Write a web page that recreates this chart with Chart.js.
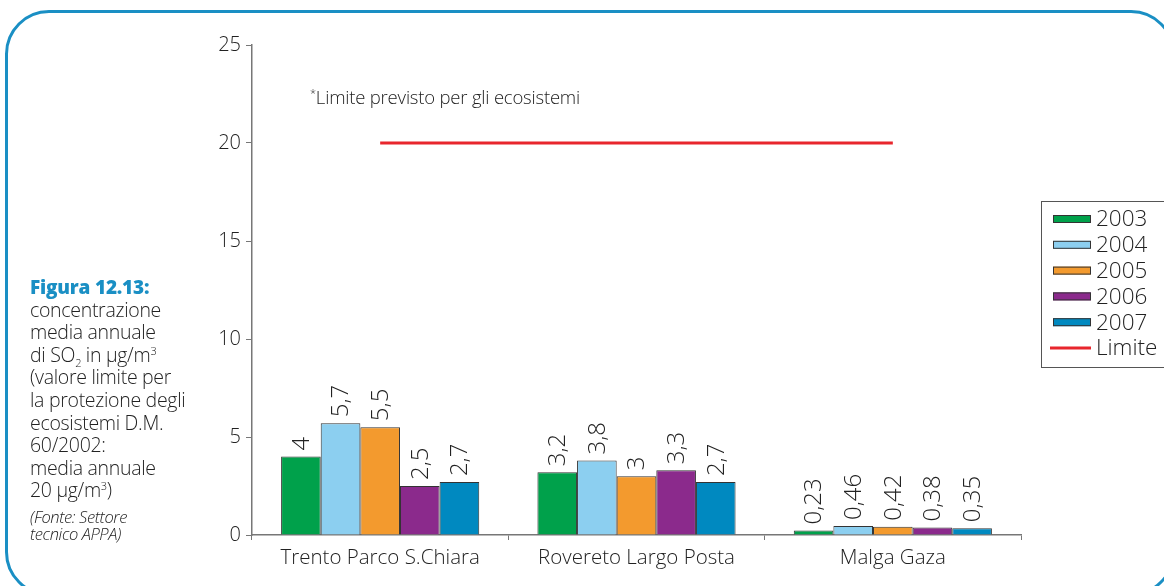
<!DOCTYPE html>
<html lang="it">
<head>
<meta charset="utf-8">
<title>SO2 – media annuale</title>
<script src="https://cdn.jsdelivr.net/npm/chart.js@4.4.1/dist/chart.umd.min.js"></script>
<style>
  html, body { margin: 0; padding: 0; background: #fff; }
  body { width: 1164px; height: 586px; position: relative; overflow: hidden; font-family: "Open Sans", Lato, sans-serif; font-weight: 300; color: #222; }
  #frame {
    position: absolute; left: 5px; top: 10px; width: 1170px; height: 586px;
    border: 3px solid #1a8fc4; border-radius: 44px; box-sizing: border-box;
  }
  #chart { position: absolute; left: 0; top: 0; }
  #caption {
    position: absolute; left: 30px; top: 276px; width: 200px;
    font-size: 19.5px; line-height: 22.6px; color: #222; letter-spacing: -0.3px;
  }
  #caption .fig { color: #1a8fc4; font-weight: 800; font-size: 19px; letter-spacing: -0.2px; }
  #caption .src { font-style: italic; font-size: 16.5px; line-height: 17px; margin-top: 6px; letter-spacing: -0.4px; }
  #caption sub, #caption sup { font-size: 11px; line-height: 0; }
  #note { position: absolute; left: 310px; top: 84px; font-size: 18.5px; color: #222; letter-spacing: -0.2px; }
  #note sup { font-size: 11px; }
</style>
</head>
<body>
<div id="frame"></div>
<canvas id="chart" width="1164" height="586"></canvas>
<div id="caption">
  <div class="fig">Figura 12.13:</div>
  concentrazione<br>media annuale<br>di SO<sub>2</sub> in µg/m<sup>3</sup><br>(valore limite per<br>la protezione degli<br>ecosistemi D.M.<br>60/2002:<br>media annuale<br>20 µg/m<sup>3</sup>)
  <div class="src">(Fonte: Settore<br>tecnico APPA)</div>
</div>
<div id="note"><sup>*</sup>Limite previsto per gli ecosistemi</div>

<script>
// --- dati ---
const stazioni = ['Trento Parco S.Chiara', 'Rovereto Largo Posta', 'Malga Gaza'];
const anni     = ['2003', '2004', '2005', '2006', '2007'];
const v2003 = [4, 3.2, 0.23];
const v2004 = [5.7, 3.8, 0.46];
const v2005 = [5.5, 3, 0.42];
const v2006 = [2.5, 3.3, 0.38];
const v2007 = [2.7, 2.7, 0.35];
const limite = [20, 20, 20];
const yTicks = [0, 5, 10, 15, 20, 25];

const colori = ['#00a14b', '#8ccff0', '#f39a2e', '#8b2a8c', '#0089c0'];
const FONT = '"Open Sans", Lato, sans-serif';

const valori = [v2003, v2004, v2005, v2006, v2007];

// etichette ruotate sopra le barre (virgola decimale)
const valueLabels = {
  id: 'valueLabels',
  afterDatasetsDraw(chart) {
    const ctx = chart.ctx;
    ctx.save();
    ctx.font = '300 24px ' + FONT;
    ctx.fillStyle = '#222';
    ctx.textAlign = 'left';
    ctx.textBaseline = 'middle';
    chart.data.datasets.forEach((ds, i) => {
      if (ds.type === 'line') return;
      chart.getDatasetMeta(i).data.forEach((el, j) => {
        const txt = String(ds.data[j]).replace('.', ',');
        ctx.save();
        ctx.translate(el.x + 1, el.y - 6);
        ctx.rotate(-Math.PI / 2);
        ctx.fillText(txt, 0, 0);
        ctx.restore();
      });
    });
    ctx.restore();
  }
};

// legenda a destra, con cornice
const boxLegend = {
  id: 'boxLegend',
  afterDraw(chart) {
    const ctx = chart.ctx;
    const x0 = 1041, y0 = 201, step = 25.8;
    ctx.save();
    ctx.strokeStyle = '#555';
    ctx.lineWidth = 1;
    ctx.strokeRect(x0 + 0.5, y0 + 0.5, 200, 166);
    ctx.font = '300 22.5px ' + FONT;
    ctx.textBaseline = 'middle';
    chart.data.datasets.forEach((ds, i) => {
      const cy = y0 + 18 + i * step;
      if (ds.type === 'line') {
        ctx.strokeStyle = ds.borderColor;
        ctx.lineWidth = 3;
        ctx.beginPath();
        ctx.moveTo(x0 + 9, cy);
        ctx.lineTo(x0 + 50, cy);
        ctx.stroke();
      } else {
        ctx.fillStyle = ds.backgroundColor;
        ctx.fillRect(x0 + 12, cy - 4, 38, 8);
        ctx.strokeStyle = '#333';
        ctx.lineWidth = 1;
        ctx.strokeRect(x0 + 12.5, cy - 3.5, 37, 7);
      }
      ctx.fillStyle = '#222';
      ctx.fillText(ds.label, x0 + 55, cy + 1);
    });
    ctx.restore();
  }
};

const datasets = anni.map((a, i) => ({
  type: 'bar',
  label: a,
  data: valori[i],
  backgroundColor: colori[i],
  borderColor: '#333',
  borderWidth: 1,
  categoryPercentage: 0.773,
  barPercentage: 1,
  order: 2
}));
datasets.push({
  type: 'line',
  label: 'Limite',
  data: limite,
  borderColor: '#e8262d',
  borderWidth: 3,
  pointRadius: 0,
  fill: false,
  order: 1
});

new Chart(document.getElementById('chart'), {
  data: { labels: stazioni, datasets },
  options: {
    responsive: false,
    animation: false,
    layout: { padding: { left: 192, top: 45, right: 143, bottom: 0 } },
    plugins: { legend: { display: false }, tooltip: { enabled: false } },
    scales: {
      x: {
        grid: { offset: true, drawOnChartArea: false, tickLength: 5, color: '#777' },
        border: { color: '#777', width: 1.5 },
        ticks: { font: { family: FONT, size: 20.5, weight: 300 }, color: '#222', padding: 6 },
        afterFit: s => { s.height = 51; }
      },
      y: {
        min: 0, max: 25,
        afterBuildTicks: s => { s.ticks = yTicks.map(v => ({ value: v })); },
        grid: { drawOnChartArea: false, tickLength: 6, color: '#777' },
        border: { color: '#777', width: 1.5 },
        ticks: { font: { family: FONT, size: 20, weight: 300 }, color: '#222', padding: 5 },
        afterFit: s => { s.width = 60; }
      }
    }
  },
  plugins: [valueLabels, boxLegend]
});
</script>
</body>
</html>
